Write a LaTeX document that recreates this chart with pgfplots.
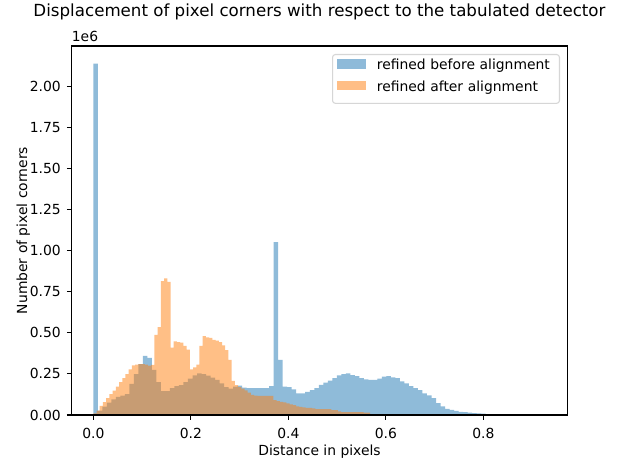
\documentclass[border=0pt]{standalone}
\usepackage{fontspec}
\setmainfont{DejaVu Sans}
\usepackage{pgfplots}
\pgfplotsset{compat=1.18}

\definecolor{c0}{HTML}{1F77B4}
\definecolor{c1}{HTML}{FF7F0E}
\definecolor{legendgray}{HTML}{D6D6D6}

\newcommand{\tickfont}{\fontsize{13.89bp}{16bp}\selectfont}
\newcommand{\titlefont}{\fontsize{16.67bp}{19bp}\selectfont}

\begin{document}
\begin{tikzpicture}
\path[use as bounding box] (0,0) rectangle (618bp,469bp);
\begin{axis}[
    name=ax,
    at={(71.7bp,54bp)}, anchor=south west,
    scale only axis,
    width=495.6bp, height=369bp,
    xmin=-0.0443, xmax=0.9723,
    ymin=0, ymax=2.245,
    axis on top,
    axis line style={black, line width=1.11bp},
    tick style={black, line width=1.11bp},
    tick align=outside,
    tick pos=left,
    major tick length=4.86bp,
    xtick={0,0.2,0.4,0.6,0.8},
    xticklabels={0.0,0.2,0.4,0.6,0.8},
    ytick={0,0.25,0.5,0.75,1,1.25,1.5,1.75,2},
    yticklabels={0.00,0.25,0.50,0.75,1.00,1.25,1.50,1.75,2.00},
    tick label style={font=\tickfont},
    xticklabel style={inner sep=0pt, yshift=-8.5bp},
    yticklabel style={inner sep=0pt, xshift=-5.8bp},
    xlabel={Distance in pixels},
    ylabel={Number of pixel corners},
    xlabel style={font=\tickfont, at={(rel axis cs:0.5,0)}, anchor=base, yshift=-40bp, inner sep=0pt},
    ylabel style={font=\tickfont, at={(rel axis cs:0,0.5)}, anchor=base, yshift=44.7bp, inner sep=0pt},
    title={Displacement of pixel corners with respect to the tabulated detector},
    title style={font=\titlefont, at={(rel axis cs:0.5,1)}, anchor=base, yshift=23.3bp, inner sep=0pt},
    legend style={
        at={(1,1)}, anchor=north east, xshift=-7.3bp, yshift=-8bp,
        draw=legendgray, line width=1.1bp, fill=white, rounded corners=2.8bp,
        inner xsep=4.6bp, inner ysep=4.3bp,
        font=\tickfont,
        nodes={inner sep=0pt, text height=10.4bp, text depth=7.6bp},
        row sep=3.6bp,
        /tikz/every odd column/.append style={column sep=11bp},
        /tikz/every even column/.append style={nodes={text width=178bp}},
    },
    legend cell align=left,
    legend image code/.code={\fill[sharp corners, #1] (0bp,-0.4bp) rectangle (28.7bp,9.3bp);},
]

% refined before alignment: 100 bins of width 0.00925
\addplot[const plot mark left, fill=c0, fill opacity=0.5, draw=none] table {
x y
0.00000 2.138
0.00925 0.026
0.01850 0.051
0.02775 0.075
0.03700 0.095
0.04625 0.110
0.05550 0.118
0.06475 0.127
0.07400 0.189
0.08325 0.249
0.09250 0.310
0.10175 0.359
0.11100 0.347
0.12025 0.274
0.12950 0.200
0.13875 0.146
0.14800 0.146
0.15725 0.164
0.16650 0.176
0.17575 0.182
0.18500 0.200
0.19425 0.222
0.20350 0.241
0.21275 0.253
0.22200 0.249
0.23125 0.239
0.24050 0.227
0.24975 0.213
0.25900 0.193
0.26825 0.170
0.27750 0.160
0.28675 0.172
0.29600 0.178
0.30525 0.166
0.31450 0.164
0.32375 0.164
0.33300 0.164
0.34225 0.164
0.35150 0.164
0.36075 0.176
0.37000 1.052
0.37925 0.335
0.38850 0.172
0.39775 0.170
0.40700 0.156
0.41625 0.132
0.42550 0.132
0.43475 0.140
0.44400 0.152
0.45325 0.164
0.46250 0.184
0.47175 0.197
0.48100 0.209
0.49025 0.225
0.49950 0.241
0.50875 0.249
0.51800 0.253
0.52725 0.243
0.53650 0.237
0.54575 0.225
0.55500 0.217
0.56425 0.213
0.57350 0.213
0.58275 0.221
0.59200 0.233
0.60125 0.237
0.61050 0.229
0.61975 0.225
0.62900 0.205
0.63825 0.193
0.64750 0.176
0.65675 0.164
0.66600 0.152
0.67525 0.132
0.68450 0.120
0.69375 0.103
0.70300 0.073
0.71225 0.053
0.72150 0.038
0.73075 0.031
0.74000 0.025
0.74925 0.019
0.75850 0.018
0.76775 0.015
0.77700 0.012
0.78625 0.010
0.79550 0.008
0.80475 0.006
0.81400 0.006
0.82325 0.006
0.83250 0.005
0.84175 0.004
0.85100 0.0003
0.86025 0.0003
0.86950 0.0003
0.87875 0.0003
0.88800 0.0003
0.89725 0.0003
0.90650 0.0003
0.91575 0.0003
0.92500 0.0003
} \closedcycle;
\addlegendentry{refined before alignment}

% refined after alignment: 100 bins of width 0.0066
\addplot[const plot mark left, fill=c1, fill opacity=0.5, draw=none] table {
x y
0.0000 0.010
0.0066 0.026
0.0132 0.055
0.0198 0.079
0.0264 0.103
0.0330 0.127
0.0396 0.148
0.0462 0.172
0.0528 0.200
0.0594 0.225
0.0660 0.249
0.0726 0.278
0.0792 0.302
0.0858 0.306
0.0924 0.310
0.0990 0.310
0.1056 0.306
0.1122 0.300
0.1188 0.305
0.1254 0.487
0.1320 0.534
0.1386 0.815
0.1452 0.831
0.1518 0.810
0.1584 0.410
0.1650 0.448
0.1716 0.444
0.1782 0.440
0.1848 0.420
0.1914 0.398
0.1980 0.278
0.2046 0.290
0.2112 0.306
0.2178 0.420
0.2244 0.480
0.2310 0.473
0.2376 0.469
0.2442 0.457
0.2508 0.452
0.2574 0.444
0.2640 0.424
0.2706 0.395
0.2772 0.335
0.2838 0.207
0.2904 0.182
0.2970 0.170
0.3036 0.160
0.3102 0.150
0.3168 0.136
0.3234 0.122
0.3300 0.118
0.3366 0.116
0.3432 0.116
0.3498 0.116
0.3564 0.116
0.3630 0.116
0.3696 0.091
0.3762 0.085
0.3828 0.080
0.3894 0.077
0.3960 0.071
0.4026 0.065
0.4092 0.060
0.4158 0.053
0.4224 0.050
0.4290 0.047
0.4356 0.043
0.4422 0.043
0.4488 0.040
0.4554 0.035
0.4620 0.035
0.4686 0.035
0.4752 0.035
0.4818 0.035
0.4884 0.030
0.4950 0.030
0.5016 0.022
0.5082 0.018
0.5148 0.018
0.5214 0.018
0.5280 0.018
0.5346 0.018
0.5412 0.018
0.5478 0.018
0.5544 0.014
0.5610 0.014
0.5676 0.006
0.5742 0.006
0.5808 0.006
0.5874 0.006
0.5940 0.006
0.6006 0.006
0.6072 0.0005
0.6138 0.0005
0.6204 0.0005
0.6270 0.0005
0.6336 0.0005
0.6402 0.0005
0.6468 0.0005
0.6534 0.0005
0.6600 0.0005
} \closedcycle;
\addlegendentry{refined after alignment}
\end{axis}
\node[anchor=base west, inner sep=0pt, font=\tickfont] at ([yshift=4.3bp]ax.north west) {1e6};
\end{tikzpicture}
\end{document}
